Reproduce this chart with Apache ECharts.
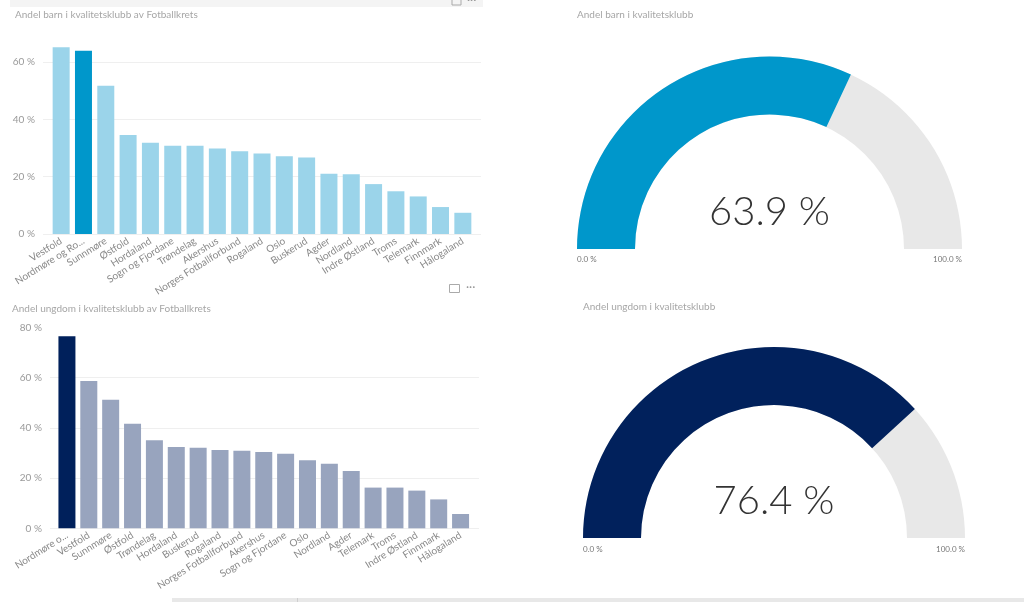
<!DOCTYPE html>
<html>
<head>
<meta charset="utf-8">
<script src="https://cdn.jsdelivr.net/npm/echarts@6/dist/echarts.min.js"></script>
<style>
html,body{margin:0;padding:0;background:#fff;}
#c{width:1024px;height:602px;}
</style>
</head>
<body>
<div id="c"></div>
<script>
// ---------- DATA ----------
const titleBarnChart = 'Andel barn i kvalitetsklubb av Fotballkrets';
const titleUngdomChart = 'Andel ungdom i kvalitetsklubb av Fotballkrets';
const titleBarnGauge = 'Andel barn i kvalitetsklubb';
const titleUngdomGauge = 'Andel ungdom i kvalitetsklubb';

const barnCategories = ['Vestfold','Nordmøre og Romsdal','Sunnmøre','Østfold','Hordaland','Sogn og Fjordane','Trøndelag','Akershus','Norges Fotballforbund','Rogaland','Oslo','Buskerud','Agder','Nordland','Indre Østland','Troms','Telemark','Finnmark','Hålogaland'];
const barnValues = [65.1, 63.9, 51.7, 34.5, 31.8, 30.8, 30.8, 29.8, 28.9, 28.1, 27.1, 26.7, 21.0, 20.8, 17.4, 14.9, 13.1, 9.4, 7.4];
const barnHighlight = 'Nordmøre og Romsdal';

const ungdomCategories = ['Nordmøre og Romsdal','Vestfold','Sunnmøre','Østfold','Trøndelag','Hordaland','Buskerud','Rogaland','Norges Fotballforbund','Akershus','Sogn og Fjordane','Oslo','Nordland','Agder','Telemark','Troms','Indre Østland','Finnmark','Hålogaland'];
const ungdomValues = [76.4, 58.6, 51.2, 41.6, 35.0, 32.4, 32.1, 31.2, 30.9, 30.4, 29.7, 27.1, 25.7, 22.8, 16.2, 16.2, 15.0, 11.5, 5.7];
const ungdomHighlight = 'Nordmøre og Romsdal';

const barnGaugeValue = 63.9;
const ungdomGaugeValue = 76.4;
const gaugeMin = 0;
const gaugeMax = 100;

const barnAxisTicks = [0, 20, 40, 60];
const ungdomAxisTicks = [0, 20, 40, 60, 80];

// ---------- RENDER ----------
const FONT = "'Segoe UI', Lato, 'Open Sans', sans-serif";
const chart = echarts.init(document.getElementById('c'));

function barData(cats, vals, hi, light, dark) {
  return vals.map((v, i) => ({ value: v, itemStyle: { color: cats[i] === hi ? dark : light } }));
}
function truncLabel(maxLen) {
  return function (v) { return v.length > maxLen && v.indexOf('Nordmøre') === 0 ? v.slice(0, maxLen) + '...' : v; };
}
const pct = v => v + ' %';

const gridLineAxis = (gi, ticks, max) => ({
  type: 'value', gridIndex: gi, min: 0, max: max, interval: 20,
  axisLine: { show: false }, axisTick: { show: false },
  axisLabel: { color: '#999', fontSize: 10, fontFamily: FONT, margin: 8,
    formatter: v => ticks.indexOf(v) >= 0 ? pct(v) : '' },
  splitLine: { show: true, showMaxLine: false, lineStyle: { color: '#efefef', width: 1 } }
});
const hiddenValAxis = (gi, max) => ({
  type: 'value', gridIndex: gi, min: 0, max: max, interval: 20, show: false,
  splitLine: { show: false }
});

const gaugeSeries = (center, radius, width, value, color) => ({
  type: 'gauge', center: center, radius: radius,
  startAngle: 180, endAngle: 0, min: gaugeMin, max: gaugeMax,
  progress: { show: true, width: width, roundCap: false, itemStyle: { color: color } },
  axisLine: { roundCap: false, lineStyle: { width: width, color: [[1, '#e8e8e8']] } },
  pointer: { show: false }, anchor: { show: false },
  axisTick: { show: false }, splitLine: { show: false }, axisLabel: { show: false },
  title: { show: false },
  detail: {
    valueAnimation: false, offsetCenter: [0, -37],
    formatter: v => v.toFixed(1) + ' %',
    fontSize: 40, fontFamily: "Lato, Roboto, sans-serif",
    fontWeight: 300, color: '#333'
  },
  data: [{ value: value }]
});

const gaugeLabel = (x, y, text, align) => ({
  type: 'text', left: align === 'left' ? x : undefined, right: align === 'right' ? 1024 - x : undefined, top: y,
  style: { text: text, fill: '#777', font: "8px " + FONT }
});
const titleStyle = { color: '#a6a6a6', fontSize: 10, fontWeight: 'normal', fontFamily: FONT };

chart.setOption({
  animation: false,
  backgroundColor: '#ffffff',
  title: [
    { text: titleBarnChart, left: 15, top: 10, padding: 0, textStyle: titleStyle },
    { text: titleUngdomChart, left: 12, top: 304, padding: 0, textStyle: titleStyle },
    { text: titleBarnGauge, left: 577, top: 10, padding: 0, textStyle: titleStyle },
    { text: titleUngdomGauge, left: 583, top: 302, padding: 0, textStyle: titleStyle }
  ],
  grid: [
    { left: 43, width: 438, top: 39, height: 195 },   // 0 top gridlines
    { left: 50, width: 424, top: 39, height: 195 },   // 1 top bars
    { left: 50, width: 429, top: 327.3, height: 201 }, // 2 bottom gridlines
    { left: 56, width: 415.5, top: 327.3, height: 201 } // 3 bottom bars
  ],
  xAxis: [
    { type: 'value', gridIndex: 0, show: false, splitLine: { show: false } },
    { type: 'category', gridIndex: 1, data: barnCategories,
      axisLine: { show: false }, axisTick: { show: false },
      axisLabel: { rotate: 32, interval: 0, color: '#888', fontSize: 10, fontFamily: FONT, margin: 6, formatter: truncLabel(14) } },
    { type: 'value', gridIndex: 2, show: false, splitLine: { show: false } },
    { type: 'category', gridIndex: 3, data: ungdomCategories,
      axisLine: { show: false }, axisTick: { show: false },
      axisLabel: { rotate: 32, interval: 0, color: '#888', fontSize: 10, fontFamily: FONT, margin: 6, formatter: truncLabel(10) } }
  ],
  yAxis: [
    gridLineAxis(0, barnAxisTicks, 68),
    hiddenValAxis(1, 68),
    gridLineAxis(2, ungdomAxisTicks, 80),
    hiddenValAxis(3, 80)
  ],
  series: [
    { type: 'bar', xAxisIndex: 1, yAxisIndex: 1, barWidth: 17,
      data: barData(barnCategories, barnValues, barnHighlight, '#9bd4ea', '#0097cb') },
    { type: 'bar', xAxisIndex: 3, yAxisIndex: 3, barWidth: 17,
      data: barData(ungdomCategories, ungdomValues, ungdomHighlight, '#98a4be', '#00205b') },
    gaugeSeries([769.5, 249], 192.5, 58, barnGaugeValue, '#0097cb'),
    gaugeSeries([774, 538], 191, 58, ungdomGaugeValue, '#01215c')
  ],
  graphic: [
    { type: 'rect', shape: { x: 10, y: 0, width: 473, height: 7 }, style: { fill: '#f4f4f4' } },
    { type: 'rect', shape: { x: 452, y: -2, width: 9, height: 7 }, style: { fill: 'none', stroke: '#aaa', lineWidth: 1 } },
    { type: 'text', left: 467, top: -6, style: { text: '···', fill: '#999', font: '12px ' + FONT } },
    { type: 'rect', shape: { x: 449.5, y: 284.5, width: 10, height: 8 }, style: { fill: 'none', stroke: '#aaa', lineWidth: 1 } },
    { type: 'text', left: 466, top: 281, style: { text: '···', fill: '#999', font: '12px ' + FONT } },
    { type: 'rect', shape: { x: 172, y: 598, width: 852, height: 4 }, style: { fill: '#e8e8e8' } },
    { type: 'rect', shape: { x: 297, y: 598, width: 1, height: 4 }, style: { fill: '#cfcfcf' } },
    gaugeLabel(577, 255, gaugeMin.toFixed(1) + ' %', 'left'),
    gaugeLabel(962, 255, gaugeMax.toFixed(1) + ' %', 'right'),
    gaugeLabel(583, 545, gaugeMin.toFixed(1) + ' %', 'left'),
    gaugeLabel(965, 545, gaugeMax.toFixed(1) + ' %', 'right')
  ]
});
</script>
</body>
</html>
